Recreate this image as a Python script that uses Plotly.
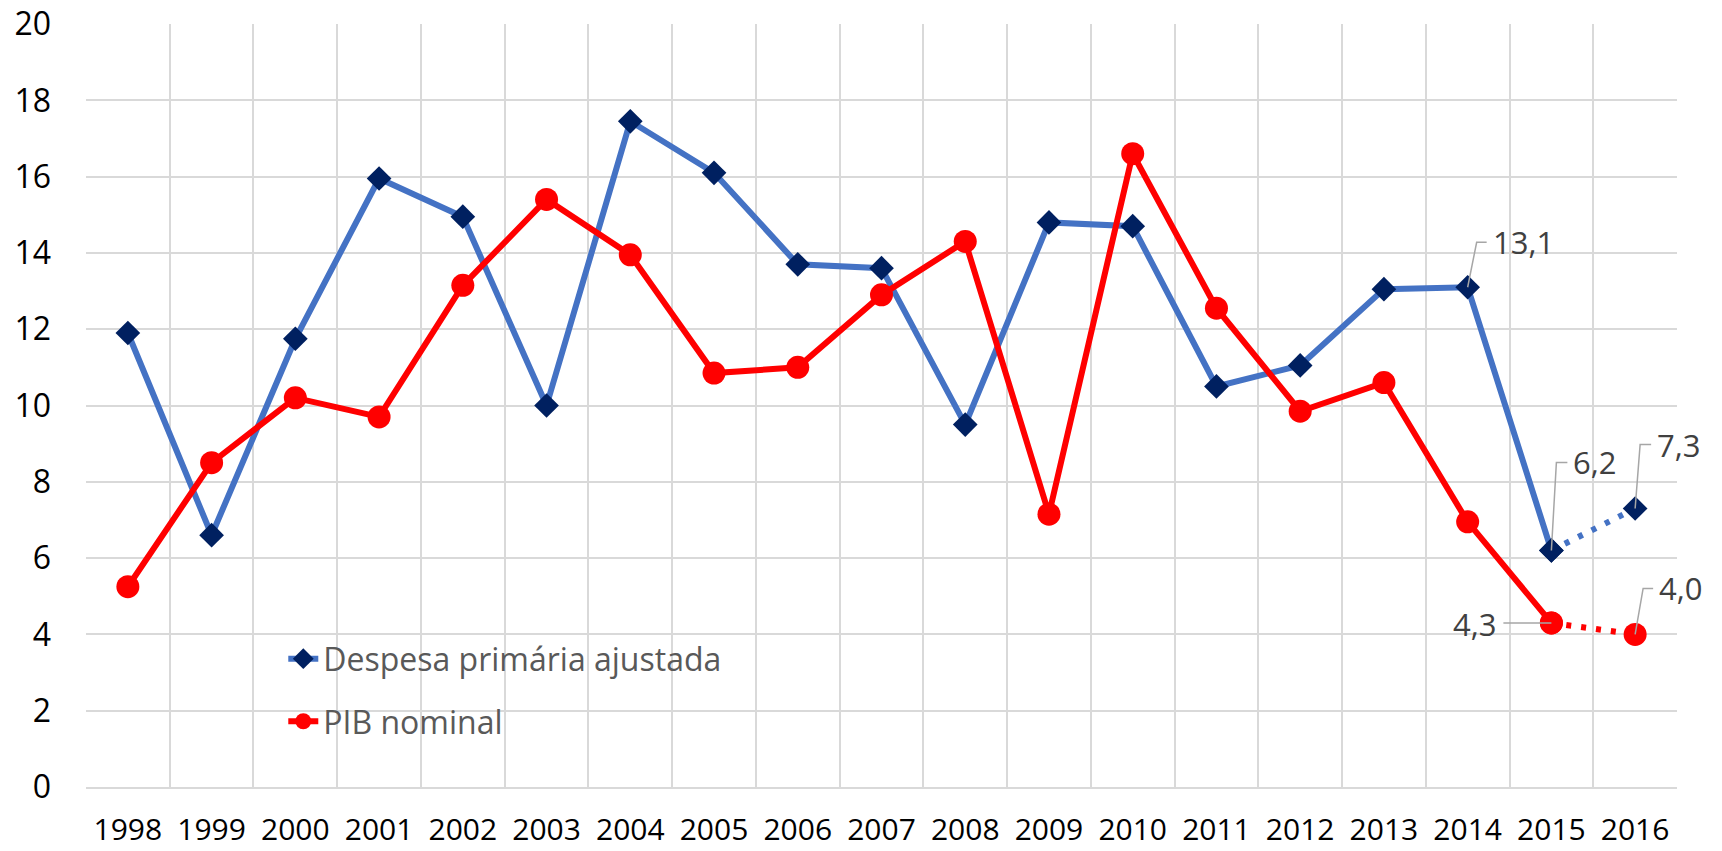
import plotly.graph_objects as go

years = [str(y) for y in range(1998, 2017)]
despesa = [11.9, 6.6, 11.75, 15.95, 14.95, 10.0, 17.45, 16.1, 13.7, 13.6, 9.5,
           14.8, 14.7, 10.5, 11.05, 13.05, 13.1, 6.2, 7.3]
pib = [5.25, 8.5, 10.2, 9.7, 13.15, 15.4, 13.95, 10.85, 11.0, 12.9, 14.3,
       7.15, 16.6, 12.55, 9.85, 10.6, 6.95, 4.3, 4.0]
y_ticks = list(range(0, 21, 2))

# labelled points: (series, year, text)
labels = [
    ("d", "2014", "13,1"),
    ("d", "2015", "6,2"),
    ("d", "2016", "7,3"),
    ("p", "2016", "4,0"),
    ("p", "2015", "4,3"),
]
# leader-line style per label: (elbow dx, elbow dy, stub length, side)
leader = {
    "13,1": (9, 45, 10, "right"),
    "6,2": (5, 88, 11, "right"),
    "7,3": (5, 64, 11, "right"),
    "4,0": (8, 46, 10, "right"),
    "4,3": (0, 0, -48, "left"),
}

BLUE = "#4472C4"
NAVY = "#002060"
RED = "#FF0000"
FONT = "Open Sans"

fig = go.Figure()

fig.add_trace(go.Scatter(x=years[:-1], y=despesa[:-1], mode="lines+markers",
                         name="Despesa primária ajustada", legendgroup="a",
                         line=dict(color=BLUE, width=6),
                         marker=dict(symbol="diamond", size=19, color=NAVY)))
fig.add_trace(go.Scatter(x=years[:-1], y=pib[:-1], mode="lines+markers",
                         name="PIB nominal", legendgroup="b",
                         line=dict(color=RED, width=6),
                         marker=dict(symbol="circle", size=23, color=RED)))

# dotted projection segments (last two points)
fig.add_trace(go.Scatter(x=years[-2:], y=despesa[-2:], mode="lines+markers",
                         line=dict(color=BLUE, width=6, dash="5px,10px"),
                         marker=dict(symbol="diamond", size=19, color=NAVY),
                         showlegend=False, hoverinfo="skip"))
fig.add_trace(go.Scatter(x=years[-2:], y=pib[-2:], mode="lines+markers",
                         line=dict(color=RED, width=6, dash="5px,10px"),
                         marker=dict(symbol="circle", size=23, color=RED),
                         showlegend=False, hoverinfo="skip"))

for s, yr, txt in labels:
    i = years.index(yr)
    yv = despesa[i] if s == "d" else pib[i]
    ex, ey, stub, side = leader[txt]
    endx = ex + stub
    fig.add_shape(type="path", xref="x", yref="y", xsizemode="pixel",
                  ysizemode="pixel", xanchor=i, yanchor=yv,
                  path=f"M0,0 L{ex},{ey} L{endx},{ey}",
                  line=dict(color="#A6A6A6", width=1.5), layer="above")
    if side == "right":
        fig.add_annotation(x=i, y=yv, xref="x", yref="y", text=txt,
                           showarrow=False, xanchor="left", yanchor="middle",
                           xshift=endx + 4, yshift=ey,
                           font=dict(family=FONT, size=31, color="#404040"))
    else:
        fig.add_annotation(x=i, y=yv, xref="x", yref="y", text=txt,
                           showarrow=False, xanchor="right", yanchor="middle",
                           xshift=endx - 5, yshift=-1,
                           font=dict(family=FONT, size=31, color="#404040"))

fig.update_layout(
    width=1722, height=851,
    margin=dict(l=86, r=45, t=24, b=64),
    paper_bgcolor="white", plot_bgcolor="white",
    font=dict(family=FONT, size=32, color="#000000"),
    legend=dict(x=0.124, y=0.204, xanchor="left", yanchor="top",
                bgcolor="rgba(0,0,0,0)", tracegroupgap=18,
                font=dict(family=FONT, size=32, color="#595959")),
    xaxis=dict(type="category", categoryorder="array", categoryarray=years,
               range=[-0.5, len(years) - 0.5], automargin=False,
               tickson="boundaries", showgrid=True, tickangle=0,
               gridcolor="#D9D9D9", gridwidth=2, ticks="",
               showline=True, linecolor="#D9D9D9", linewidth=2, mirror=False,
               ticklabelstandoff=15, zeroline=False,
               tickfont=dict(family=FONT, size=30, color="#000000")),
    yaxis=dict(range=[0, 20], tickvals=y_ticks, showgrid=True,
               gridcolor="#D9D9D9", gridwidth=2, zeroline=False,
               automargin=False,
               showline=False, ticks="", ticklabelstandoff=34,
               tickfont=dict(family=FONT, size=32, color="#000000")),
)

fig.write_html("out.html", config={"displayModeBar": False},
               post_script="document.body.style.margin='0';")
